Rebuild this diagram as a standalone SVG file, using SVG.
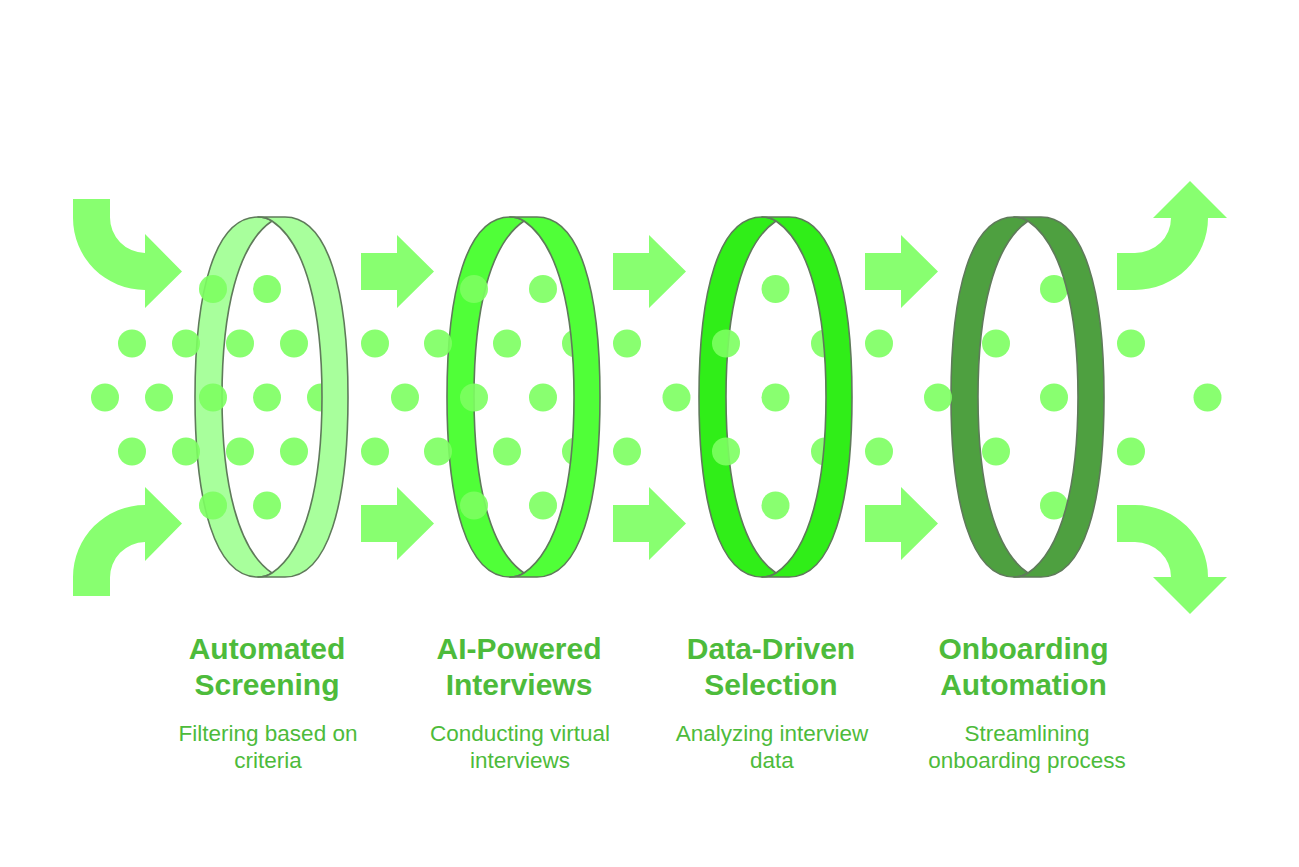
<svg xmlns="http://www.w3.org/2000/svg" width="1299" height="867" viewBox="0 0 1299 867">
<style>
.a{fill:#88ff70}
.d{fill:#7cff60;fill-opacity:.9}
.b{stroke:#5f7a5a;stroke-width:1.6;stroke-linejoin:round}
.t{font:bold 30px "Liberation Sans",Arial,sans-serif;fill:#4dbb3b;text-anchor:middle}
.s{font:22.500px "Liberation Sans",Arial,sans-serif;fill:#4dbb3b;text-anchor:middle}
</style>
<defs>
<path id="L" d="M272 221Q266 217 258 217C215 217 195 290 195 397C195 504 215 577 258 577Q266 577 272 573C238 550 222 484 222 397C222 310 238 244 272 221Z"/>
<path id="R" d="M258 217H285C328 217 348 290 348 397C348 504 328 577 285 577H258Q266 577 272 573C306 550 322 484 322 397C322 310 306 244 272 221Q266 217 258 217Z"/>
<path id="S" d="M361 253H397V235L434 271.500L397 308V290H361Z"/>
<path id="C" d="M73 199H110V217A35.500 35.500 0 0 0 145 253V234L182 271.500L145 308V290A72 72 0 0 1 73 218Z"/>
<path id="O" d="M1117 253H1135A36 35 0 0 0 1171 218H1153L1190 181L1227 218H1208A73 72 0 0 1 1135 290H1117Z"/>
</defs>
<g id="connectors">
<use href="#C" class="a"/>
<use href="#C" class="a" transform="matrix(1 0 0 -1 0 795)"/>
<use href="#S" class="a"/>
<use href="#S" class="a" x="252"/>
<use href="#S" class="a" x="504"/>
<use href="#S" class="a" y="252"/>
<use href="#S" class="a" x="252" y="252"/>
<use href="#S" class="a" x="504" y="252"/>
<use href="#O" class="a"/>
<use href="#O" class="a" transform="matrix(1 0 0 -1 0 795)"/>
</g>
<g id="ring-backs">
<use href="#L" class="b" fill="#a8ff9c"/>
<use href="#L" class="b" fill="#50ff38" x="252"/>
<use href="#L" class="b" fill="#30ee18" x="504"/>
<use href="#L" class="b" fill="#4ea040" x="756"/>
</g>
<g id="dots" class="d">
<circle cx="213" cy="289" r="14"/><circle cx="267" cy="289" r="14"/>
<circle cx="132" cy="343.500" r="14"/><circle cx="186" cy="343.500" r="14"/><circle cx="240" cy="343.500" r="14"/><circle cx="294" cy="343.500" r="14"/>
<circle cx="105" cy="397.500" r="14"/><circle cx="159" cy="397.500" r="14"/><circle cx="213" cy="397.500" r="14"/><circle cx="267" cy="397.500" r="14"/><circle cx="321" cy="397.500" r="14"/>
<circle cx="132" cy="451.500" r="14"/><circle cx="186" cy="451.500" r="14"/><circle cx="240" cy="451.500" r="14"/><circle cx="294" cy="451.500" r="14"/>
<circle cx="213" cy="505.500" r="14"/><circle cx="267" cy="505.500" r="14"/>
<circle cx="474" cy="289" r="14"/><circle cx="543" cy="289" r="14"/>
<circle cx="375" cy="343.500" r="14"/><circle cx="438" cy="343.500" r="14"/><circle cx="507" cy="343.500" r="14"/><circle cx="576" cy="343.500" r="14"/><circle cx="627" cy="343.500" r="14"/>
<circle cx="405" cy="397.500" r="14"/><circle cx="474" cy="397.500" r="14"/><circle cx="543" cy="397.500" r="14"/>
<circle cx="375" cy="451.500" r="14"/><circle cx="438" cy="451.500" r="14"/><circle cx="507" cy="451.500" r="14"/><circle cx="576" cy="451.500" r="14"/><circle cx="627" cy="451.500" r="14"/>
<circle cx="474" cy="505.500" r="14"/><circle cx="543" cy="505.500" r="14"/>
<circle cx="775.500" cy="289" r="14"/>
<circle cx="726" cy="343.500" r="14"/><circle cx="825" cy="343.500" r="14"/><circle cx="879" cy="343.500" r="14"/>
<circle cx="676.500" cy="397.500" r="14"/><circle cx="775.500" cy="397.500" r="14"/>
<circle cx="726" cy="451.500" r="14"/><circle cx="825" cy="451.500" r="14"/><circle cx="879" cy="451.500" r="14"/>
<circle cx="775.500" cy="505.500" r="14"/>
<circle cx="1054" cy="289" r="14"/>
<circle cx="996" cy="343.500" r="14"/><circle cx="1131" cy="343.500" r="14"/>
<circle cx="938" cy="397.500" r="14"/><circle cx="1054" cy="397.500" r="14"/><circle cx="1207.500" cy="397.500" r="14"/>
<circle cx="996" cy="451.500" r="14"/><circle cx="1131" cy="451.500" r="14"/>
<circle cx="1054" cy="505.500" r="14"/>
</g>
<g id="node-1">
<use href="#R" class="b" fill="#a8ff9c"/>
<text class="t" x="267" y="659">Automated</text><text class="t" x="267" y="695">Screening</text>
<text class="s" x="268" y="741">Filtering based on</text><text class="s" x="268" y="768">criteria</text>
</g>
<g id="node-2">
<use href="#R" class="b" fill="#50ff38" x="252"/>
<text class="t" x="519" y="659">AI-Powered</text><text class="t" x="519" y="695">Interviews</text>
<text class="s" x="520" y="741">Conducting virtual</text><text class="s" x="520" y="768">interviews</text>
</g>
<g id="node-3">
<use href="#R" class="b" fill="#30ee18" x="504"/>
<text class="t" x="771" y="659">Data-Driven</text><text class="t" x="771" y="695">Selection</text>
<text class="s" x="772" y="741">Analyzing interview</text><text class="s" x="772" y="768">data</text>
</g>
<g id="node-4">
<use href="#R" class="b" fill="#4ea040" x="756"/>
<text class="t" x="1023.500" y="659">Onboarding</text><text class="t" x="1023.500" y="695">Automation</text>
<text class="s" x="1027" y="741">Streamlining</text><text class="s" x="1027" y="768">onboarding process</text>
</g>
</svg>
